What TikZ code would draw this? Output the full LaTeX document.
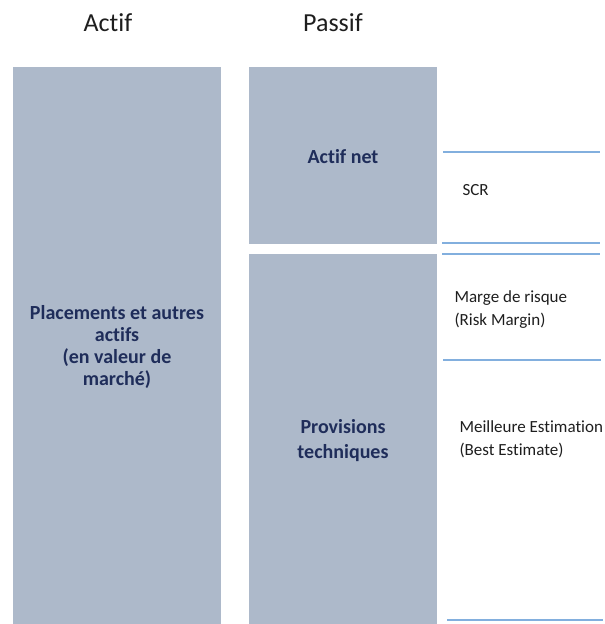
\documentclass[tikz,border=0pt]{standalone}
\usepackage{fontspec}
\setmainfont{Carlito}[Ligatures={NoCommon}]
\definecolor{boxfill}{RGB}{173,185,202}
\definecolor{navy}{RGB}{31,45,90}
\definecolor{sepline}{RGB}{130,175,222}
\definecolor{labtext}{RGB}{30,30,30}
\begin{document}
\begin{tikzpicture}[x=1pt,y=-1pt,
  blockbox/.style={fill=boxfill,draw=none},
  blocklabel/.style={font=\bfseries\fontsize{20}{22}\selectfont,text=navy,align=center},
  header/.style={font=\fontsize{26}{30}\selectfont,text=labtext},
  sideline/.style={draw=sepline,line width=1.2pt},
  sidelabel/.style={font=\fontsize{17}{23}\selectfont,text=labtext,align=left,anchor=west}]
\useasboundingbox (0,0) rectangle (605,624);
% headers
\node[header] (hactif) at (108,23) {Actif};
\node[header] (hpassif) at (333,23) {Passif};
% boxes
\path[blockbox] (13,67) rectangle (221,624);
\path[blockbox] (249,67) rectangle (437,244);
\path[blockbox] (249,254) rectangle (437,624);
\node[blocklabel] (placements) at (117,347) {Placements et autres\\actifs\\(en valeur de\\marché)};
\node[blocklabel] (actifnet) at (343,157) {Actif net};
\node[blocklabel,font=\bfseries\fontsize{20}{25}\selectfont] (provisions) at (343,441) {Provisions\\techniques};
% side lines
\coordinate (l1a) at (443,152); \coordinate (l1b) at (600,152);
\coordinate (l2a) at (442,243); \coordinate (l2b) at (600,243);
\coordinate (l3a) at (442,254); \coordinate (l3b) at (600,254);
\coordinate (l4a) at (443,360); \coordinate (l4b) at (601,360);
\coordinate (l5a) at (447,620); \coordinate (l5b) at (603,620);
\draw[sideline] (l1a) -- (l1b);
\draw[sideline] (l2a) -- (l2b);
\draw[sideline] (l3a) -- (l3b);
\draw[sideline] (l4a) -- (l4b);
\draw[sideline] (l5a) -- (l5b);
% side labels
\node[sidelabel] (scr) at (459,190) {SCR};
\node[sidelabel] (marge) at (451,310) {Marge de risque\\(Risk Margin)};
\node[sidelabel] (best) at (456,439) {Meilleure Estimation\\(Best Estimate)};
\end{tikzpicture}
\end{document}
